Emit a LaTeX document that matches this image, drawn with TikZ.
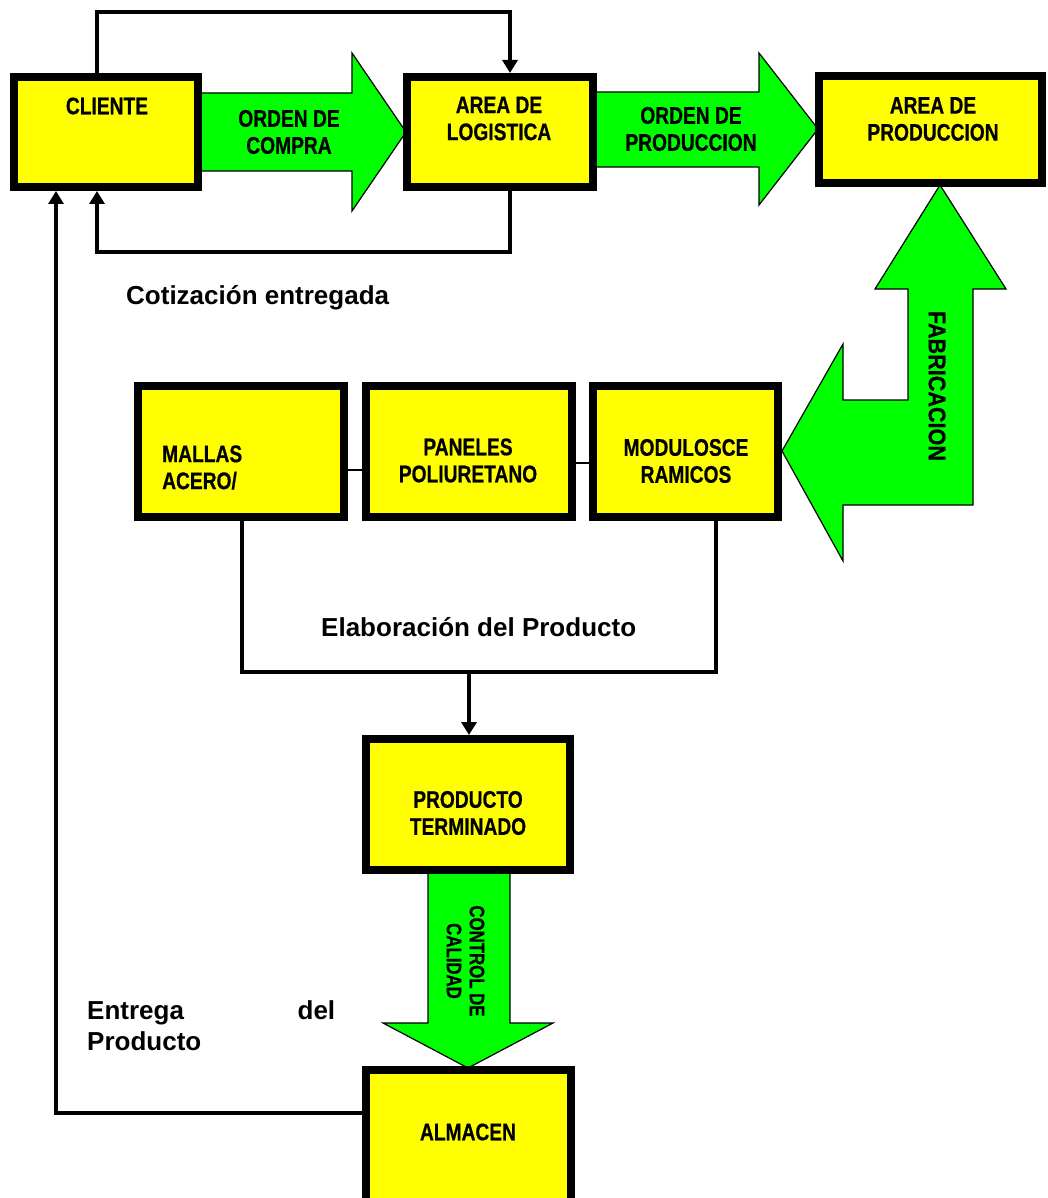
\documentclass[tikz,border=0pt]{standalone}
\usepackage{fontspec}
\setmainfont{Liberation Sans}
\newfontfamily\boxfont[FakeStretch=0.8,FakeBold=0.6]{Liberation Sans}
\newfontfamily\fabfont[FakeStretch=0.9,FakeBold=0.6]{Liberation Sans}
\usetikzlibrary{arrows.meta}
\definecolor{boxyellow}{RGB}{255,255,0}
\definecolor{arrgreen}{RGB}{0,255,0}
\begin{document}
\begin{tikzpicture}[x=1pt,y=-1pt,
  ybox/.style={draw=black,line width=8pt,fill=boxyellow,inner sep=0pt},
  boxtxt/.style={font=\boxfont\bfseries\fontsize{24}{27}\selectfont,align=center,inner sep=0pt},
  lbl/.style={font=\bfseries\fontsize{26}{31}\selectfont,inner sep=0pt},
  conn/.style={line width=3.5pt},
  thinconn/.style={line width=2pt},
  arr/.style={-{Triangle[length=13pt,width=15pt]}},
  garrow/.style={fill=arrgreen,draw=black,line width=1.2pt,line join=miter}]
\fill[white] (0,0) rectangle (1047,1198);
\useasboundingbox (0,0) rectangle (1047,1198);

% green block arrows
\draw[garrow] (198,93) -- (352,93) -- (352,53) -- (406,132) -- (352,211) -- (352,171) -- (198,171) -- cycle;
\draw[garrow] (595,92) -- (759,92) -- (759,53) -- (818,129) -- (759,205) -- (759,167) -- (595,167) -- cycle;
\draw[garrow] (940,185) -- (1006,289) -- (973,289) -- (973,505) -- (843,505) -- (843,561) -- (782,451) -- (843,344) -- (843,400) -- (908,400) -- (908,289) -- (875,289) -- cycle;
\draw[garrow] (428,870) -- (510,870) -- (510,1023) -- (553,1023) -- (468,1068) -- (383,1023) -- (428,1023) -- cycle;

% boxes
\node[ybox,minimum width=184pt,minimum height=110pt] (cliente) at (106,132) {};
\node[ybox,minimum width=186pt,minimum height=110pt] (logis) at (500,132) {};
\node[ybox,minimum width=223pt,minimum height=107pt] (prod) at (930.5,129.5) {};
\node[ybox,minimum width=206pt,minimum height=131pt] (mallas) at (241,451.5) {};
\node[ybox,minimum width=206pt,minimum height=131pt] (paneles) at (469,451.5) {};
\node[ybox,minimum width=185pt,minimum height=131pt] (modulos) at (685.5,451.5) {};
\node[ybox,minimum width=204pt,minimum height=131pt] (producto) at (468,804.5) {};
\node[ybox,minimum width=205pt,minimum height=156pt] (almacen) at (468.5,1148) {};

% connector helper points
\coordinate (t1) at (97,12);
\coordinate (t2) at (510,12);
\coordinate (b1) at (97,252);
\coordinate (b2) at (510,252);
\coordinate (e1) at (56,1113);
\coordinate (m1) at (242,672);
\coordinate (m2) at (716,672);
\coordinate (m3) at (469,672);
\coordinate (k1) at (0,470);
\coordinate (k2) at (0,463);

% connectors
\draw[conn,arr] (t1 |- cliente.north) -- (t1) -- (t2) -- (t2 |- logis.north);
\draw[conn,arr] (b2 |- logis.south) -- (b2) -- (b1) -- (b1 |- cliente.south);
\draw[conn,arr] (almacen.west |- e1) -- (e1) -- (e1 |- cliente.south);
\draw[conn] (m1 |- mallas.south) -- (m1) -- (m2) -- (m2 |- modulos.south);
\draw[conn,arr] (m3) -- (m3 |- producto.north);
\draw[thinconn] (mallas.east |- k1) -- (paneles.west |- k1);
\draw[thinconn] (paneles.east |- k2) -- (modulos.west |- k2);

% texts
\node[boxtxt] (tcliente) at (107,106) {CLIENTE};
\node[boxtxt] (tlogis) at (499,118.5) {AREA DE\\LOGISTICA};
\node[boxtxt] (tprod) at (933,119) {AREA DE\\PRODUCCION};
\node[boxtxt,align=left,anchor=west] (tmallas) at (162,467.5) {MALLAS\\ACERO/};
\node[boxtxt] (tpaneles) at (468,460.5) {PANELES\\POLIURETANO};
\node[boxtxt] (tmod) at (686,461) {MODULOSCE\\RAMICOS};
\node[boxtxt] (tproducto) at (468,813) {PRODUCTO\\TERMINADO};
\node[boxtxt] (talmacen) at (468,1132) {ALMACEN};
\node[boxtxt] (tcompra) at (289,132) {ORDEN DE\\COMPRA};
\node[boxtxt] (tordprod) at (691,129) {ORDEN DE\\PRODUCCION};
\node[font=\fabfont\bfseries\fontsize{24}{27}\selectfont,rotate=-90,inner sep=0pt] (tfab) at (937,386) {FABRICACION};
\node[font=\boxfont\bfseries\fontsize{21}{23}\selectfont,rotate=-90,align=center,inner sep=0pt] (tcontrol) at (465.5,961) {CONTROL DE\\CALIDAD};

\node[lbl,anchor=base west] (tcot) at (126,304) {Cotización entregada};
\node[lbl,anchor=base west] (telab) at (321,636) {Elaboración del Producto};
\node[lbl,anchor=north west,text width=248pt,align=left] (tentrega) at (87,1000) {Entrega\hfill del\\Producto};
\end{tikzpicture}
\end{document}
